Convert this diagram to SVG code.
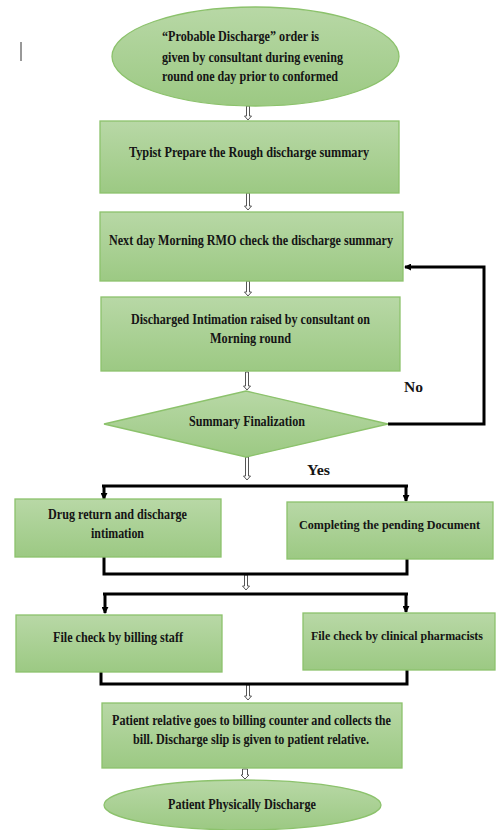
<svg xmlns="http://www.w3.org/2000/svg" width="496" height="830" viewBox="0 0 496 830">
<defs>
<linearGradient id="g" x1="0" y1="0" x2="0" y2="1">
<stop offset="0" stop-color="#b8d8a6"/>
<stop offset="1" stop-color="#9cc983"/>
</linearGradient>
<marker id="ah" viewBox="0 0 8 8" refX="7" refY="4" markerWidth="7" markerHeight="7" markerUnits="userSpaceOnUse" orient="auto">
<path d="M0,0 L8,4 L0,8 z" fill="#000"/>
</marker>
<style>
.n{fill:url(#g);stroke:#8cc26c;stroke-width:1.3}
.t{font-family:"Liberation Serif","Times New Roman",serif;font-weight:bold;font-size:14.5px;fill:#151515}
.c{text-anchor:middle}
.sm{font-size:12.5px}
.k{fill:none;stroke:#000;stroke-width:3}
.s{fill:#fff;stroke:#555;stroke-width:1}
</style>
</defs>
<rect width="496" height="830" fill="#fff"/>
<line x1="21" y1="42" x2="21" y2="61" stroke="#333" stroke-width="1"/>

<g id="connectors">
<path class="s" d="M246.5 106 L246.5 116 L244.5 116 L248 120 L251.5 116 L249.5 116 L249.5 106 Z"/>
<path class="s" d="M246.5 193 L246.5 206 L244.5 206 L248 210 L251.5 206 L249.5 206 L249.5 193 Z"/>
<path class="s" d="M246.5 281 L246.5 292 L244.5 292 L248 296 L251.5 292 L249.5 292 L249.5 281 Z"/>
<path class="s" d="M245.5 372 L245.5 386 L243.5 386 L247 390 L250.5 386 L248.5 386 L248.5 372 Z"/>
<path class="s" d="M245.5 457 L245.5 476 L243.5 476 L247 480 L250.5 476 L248.5 476 L248.5 457 Z"/>
<path class="s" d="M244.5 575 L244.5 586 L242.5 586 L246 590 L249.5 586 L247.5 586 L247.5 575 Z"/>
<path class="s" d="M246.5 685 L246.5 696 L244.5 696 L248 700 L251.5 696 L249.5 696 L249.5 685 Z"/>
<path class="s" d="M242.5 769 L242.5 775 L241 775 L245 779 L249 775 L247.5 775 L247.5 769 Z"/>
<polyline class="k" points="388,424 484,424 484,267 405,267" marker-end="url(#ah)"/>
<line class="k" x1="102" y1="486" x2="408" y2="486"/>
<line class="k" x1="104" y1="486" x2="104" y2="499" marker-end="url(#ah)"/>
<line class="k" x1="406" y1="486" x2="406" y2="501" marker-end="url(#ah)"/>
<polyline class="k" points="104,557 104,574 407,574 407,559"/>
<line class="k" x1="103" y1="594" x2="408" y2="594"/>
<line class="k" x1="105" y1="594" x2="105" y2="613" marker-end="url(#ah)"/>
<line class="k" x1="406" y1="594" x2="406" y2="612" marker-end="url(#ah)"/>
<polyline class="k" points="101,672 101,684 407,684 407,670"/>
<text class="t" x="404" y="392" textLength="19" lengthAdjust="spacingAndGlyphs">No</text>
<text class="t" x="307" y="475" textLength="23" lengthAdjust="spacingAndGlyphs">Yes</text>
</g>

<g id="start">
<ellipse class="n" cx="255.5" cy="56.5" rx="143.5" ry="49.5"/>
<text class="t" x="162" y="40.5" textLength="157" lengthAdjust="spacingAndGlyphs">“Probable Discharge” order is</text>
<text class="t" x="162" y="61.5" textLength="181" lengthAdjust="spacingAndGlyphs">given by consultant during evening</text>
<text class="t" x="162" y="80.5" textLength="176" lengthAdjust="spacingAndGlyphs">round one day prior to conformed</text>
</g>

<g id="typist">
<rect class="n" x="100" y="121" width="299" height="72"/>
<text class="t c" x="249" y="156.5" textLength="240" lengthAdjust="spacingAndGlyphs">Typist Prepare the Rough discharge summary</text>
</g>

<g id="rmo">
<rect class="n" x="100" y="212" width="303" height="69"/>
<text class="t c" x="251" y="245" textLength="284" lengthAdjust="spacingAndGlyphs">Next day Morning RMO check the discharge summary</text>
</g>

<g id="intimation">
<rect class="n" x="101" y="297" width="299" height="74"/>
<text class="t c" x="250.5" y="323.5" textLength="239" lengthAdjust="spacingAndGlyphs">Discharged Intimation raised by consultant on</text>
<text class="t c" x="250.5" y="342.5" textLength="81" lengthAdjust="spacingAndGlyphs">Morning round</text>
</g>

<g id="decision">
<polygon class="n" points="246,391 388,424 246,457 104,424"/>
<text class="t c" x="247" y="425.5" textLength="116" lengthAdjust="spacingAndGlyphs">Summary Finalization</text>
</g>

<g id="drug">
<rect class="n" x="15" y="499" width="206" height="58"/>
<text class="t c" x="117.5" y="518.5" textLength="139" lengthAdjust="spacingAndGlyphs">Drug return and discharge</text>
<text class="t c" x="117.5" y="537.5" textLength="53" lengthAdjust="spacingAndGlyphs">intimation</text>
</g>

<g id="pending">
<rect class="n" x="287" y="502" width="206" height="57"/>
<text class="t c sm" x="389.5" y="528.5" textLength="181" lengthAdjust="spacingAndGlyphs">Completing the pending Document</text>
</g>

<g id="billing">
<rect class="n" x="16" y="615" width="206" height="57"/>
<text class="t c" x="118" y="641.5" textLength="130" lengthAdjust="spacingAndGlyphs">File check by billing staff</text>
</g>

<g id="pharmacist">
<rect class="n" x="303" y="613" width="192" height="57"/>
<text class="t c sm" x="397" y="639.5" textLength="172" lengthAdjust="spacingAndGlyphs">File check by clinical pharmacists</text>
</g>

<g id="bill">
<rect class="n" x="102" y="703" width="300" height="65"/>
<text class="t c" x="251.5" y="724.5" textLength="279" lengthAdjust="spacingAndGlyphs">Patient relative goes to billing counter and collects the</text>
<text class="t c" x="251" y="743.5" textLength="236" lengthAdjust="spacingAndGlyphs">bill. Discharge slip is given to patient relative.</text>
</g>

<g id="end">
<ellipse class="n" cx="242.5" cy="805" rx="138.5" ry="25"/>
<text class="t c" x="242" y="808.5" textLength="148" lengthAdjust="spacingAndGlyphs">Patient Physically Discharge</text>
</g>
</svg>
